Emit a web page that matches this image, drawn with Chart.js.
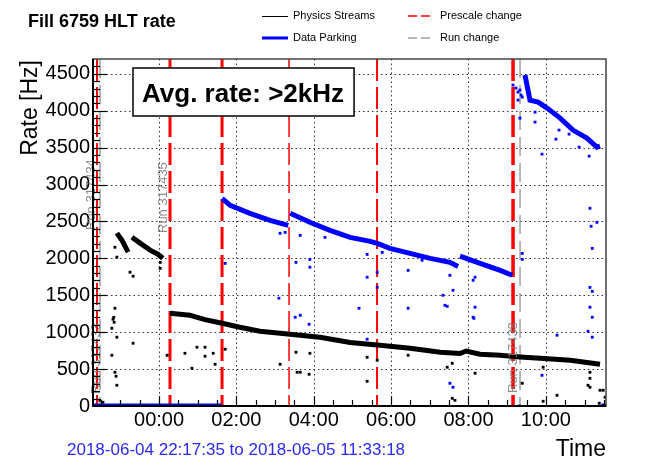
<!DOCTYPE html>
<html>
<head>
<meta charset="utf-8">
<title>Fill 6759 HLT rate</title>
<script src="https://cdn.jsdelivr.net/npm/chart.js@4.4.1/dist/chart.umd.min.js"></script>
<style>
  html, body { margin: 0; padding: 0; background: #fff; }
  #wrap { position: relative; width: 646px; height: 459px; }
</style>
</head>
<body>
<div id="wrap"><canvas id="hltRate" width="646" height="459"></canvas></div>
<script>
/* ---------- DATA (time in hours after 2018-06-05 00:00) ---------- */
const timeStart = -(1 + 42 / 60 + 25 / 3600);   // 2018-06-04 22:17:35
const timeEnd = 11 + 33 / 60 + 18 / 3600;       // 2018-06-05 11:33:18
const rateMax = 4700;
const rateTicks = [0, 500, 1000, 1500, 2000, 2500, 3000, 3500, 4000, 4500];
const timeTicks = [0, 2, 4, 6, 8, 10];

// main bands, null = gap
const physLineTime = [-1.09, -0.96, -0.80, -0.75, -0.70, -0.49, -0.23, -0.03, 0.10, 0.20,
  0.28, 0.41, 0.80, 1.19, 1.63, 2.09, 2.61, 3.39, 4.16, 4.94, 5.71, 6.49, 7.27, 7.78, 7.94,
  8.30, 8.82, 9.33, 9.85, 10.63, 11.40];
const physLineRate = [2341, 2246, 2084, null, 2287, 2206, 2111, 2056, 2002, null,
  1257, 1250, 1228, 1170, 1120, 1066, 1012, 972, 931, 860, 823, 782, 728, 710, 745,
  701, 687, 665, 647, 620, 565];

const parkLineTime = [timeStart, 1.62, 1.625, 1.63, 1.84, 2.35, 2.87, 3.34, 3.36,
  3.39, 3.90, 4.42, 4.94, 5.46, 5.64, 5.97, 6.49, 7.01, 7.52, 7.73, 7.75,
  7.78, 8.30, 8.82, 9.13, 9.14,
  9.46, 9.59, 9.80, 10.03, 10.37, 10.70, 11.06, 11.32, 11.40, 11.41, 11.43, timeEnd];
const parkLineRate = [0, 0, null, 2813, 2718, 2610, 2515, 2447, null,
  2610, 2488, 2380, 2284, 2230, 2203, 2135, 2067, 2000, 1946, 1890, null,
  2030, 1932, 1837, 1771, null,
  4483, 4143, 4116, 4035, 3899, 3737, 3628, 3506, 3520, null, 0, 0];

// scattered single measurements
const physDotTime = [-1.14, -1.09, -0.75, -0.67, -1.14, -1.19, -1.16, -1.22, -1.09, -0.67,
  -1.22, -1.14, -1.11, -1.09, -1.53, -1.45, 0.03, 0.03, 0.21, 0.67, 0.85, 0.98, 1.19, 1.19,
  1.40, 1.45, 1.71, 3.13, 3.54, 3.57, 3.65, 3.88, 3.90, 5.38, 5.38, 5.64, 6.44, 7.45, 7.58,
  7.58, 7.65, 8.17, 9.39, 9.93, 9.93, 10.29, 11.14, 11.14, 11.09, 11.14, 11.40, 11.48, 11.53,
  11.38, -1.17];
const physDotRate = [2150, 2016, 1812, 1758, 1324, 1175, 1134, 1053, 932, 850,
  687, 457, 403, 281, 77, 50, 1945, 1865, 687, 714, 511, 796, 796, 674,
  714, 565, 769, 565, 728, 457, 457, 430, 714, 660, 335, 620, 687, 525, 579,
  104, 77, 444, 308, 525, 64, 145, 457, 375, 281, 254, 213, 213, 118,
  37, 1200];

const parkDotTime = [9.15, 9.23, 9.28, 9.36, 9.33, 9.28, 9.39, 9.33, 9.72, 9.72, 10.34, 10.26,
  10.60, 10.86, 9.90, 11.12, 11.14, 11.17, 11.32, 11.20, 9.39, 9.39, 11.14, 11.20, 11.14, 11.20,
  11.09, 11.20, 10.29, 9.90, 1.71, 3.10, 3.13, 3.26, 3.54, 3.65, 3.52, 3.65, 3.88, 3.90, 3.90,
  4.29, 5.17, 5.38, 5.38, 5.38, 5.64, 5.64, 5.77, 6.44, 6.44, 6.80, 7.34, 7.39, 7.45, 7.60,
  7.52, 7.52, 7.60, 8.17, 8.17, 8.12, 8.12, 8.14, 9.31];
const parkDotRate = [4347, 4306, 4252, 4211, 4279, 4143, 4184, 3899, 3980, 3845, 3737, 3614,
  3682, 3506, 3411, 3384, 2678, 2434, 2488, 2135, 2067, 1986, 1607, 1553, 1338, 1202,
  1012, 932, 959, 416, 1932, 1460, 2339, 2352, 1946, 2311, 1202, 1229, 1107, 1986, 1880,
  2284, 1324, 1744, 2053, 905, 1812, 1607, 2080, 1837, 1324, 1974, 1500, 1364, 1350, 1567,
  1770, 308, 254, 1744, 1338, 1202, 1703, 1188, 0];

const prescaleTimes = [-1.603, 0.284, 1.629, 3.361, 5.636, 9.152];
const runChangeTimes = [-1.525, 9.333];
const runNames = ['Run 317434', 'Run 317433', 'Run 317435', 'Run 317438'];

/* ---------- STYLE ---------- */
const FONT = '"Liberation Sans", Arial, Helvetica, sans-serif';
const BLUE = '#0000ff';
const prescaleWidths = [2, 3, 3, 1.5, 2, 3.5];

const toPoints = (t, v) => t.map((x, i) => ({ x, y: v[i] }));
const hhmm = h => {
  const m = Math.round((((h % 24) + 24) % 24) * 60);
  return String(Math.floor(m / 60)).padStart(2, '0') + ':' + String(m % 60).padStart(2, '0');
};

function vline(ctx, x, top, bottom) {
  ctx.beginPath(); ctx.moveTo(x, top); ctx.lineTo(x, bottom); ctx.stroke();
}
function hline(ctx, y, left, right) {
  ctx.beginPath(); ctx.moveTo(left, y); ctx.lineTo(right, y); ctx.stroke();
}
function rotText(ctx, txt, x, y) {
  ctx.save(); ctx.translate(x, y); ctx.rotate(-Math.PI / 2);
  ctx.fillText(txt, 0, 0); ctx.restore();
}

/* ---------- grid, markers, frame, texts ---------- */
const rootStyle = {
  id: 'rootStyle',
  beforeDatasetsDraw(chart) {
    const { ctx, chartArea: a, scales: { x, y } } = chart;
    ctx.save();
    // dotted grid
    ctx.strokeStyle = '#333'; ctx.lineWidth = 1; ctx.setLineDash([1.5, 3]);
    rateTicks.slice(1).forEach(v => hline(ctx, Math.round(y.getPixelForValue(v)) + 0.5, a.left, a.right));
    timeTicks.forEach(h => vline(ctx, Math.round(x.getPixelForValue(h)) + 0.5, a.top, a.bottom));

    // run change (grey) and prescale change (red)
    ctx.strokeStyle = '#a0a0a0'; ctx.lineWidth = 1.5; ctx.setLineDash([19, 7]);
    runChangeTimes.forEach(t => vline(ctx, x.getPixelForValue(t), a.top, a.bottom));
    ctx.strokeStyle = '#ff0000'; ctx.setLineDash([22, 6]);
    prescaleTimes.forEach((t, i) => {
      ctx.lineWidth = prescaleWidths[i];
      vline(ctx, x.getPixelForValue(t), a.top, a.bottom);
    });
    ctx.restore();
  },
  afterDraw(chart) {
    const { ctx, chartArea: a, scales: { x, y } } = chart;
    ctx.save();

    // run labels (rotated, grey)
    ctx.fillStyle = 'rgba(120,120,120,0.85)';
    ctx.font = '13px ' + FONT;
    ctx.textAlign = 'left'; ctx.textBaseline = 'alphabetic';
    rotText(ctx, runNames[0], 95, 230);
    rotText(ctx, runNames[1], 100, 394);
    rotText(ctx, runNames[2], 167, 233);
    rotText(ctx, runNames[3], 517, 393);

    // frame
    ctx.setLineDash([]);
    ctx.strokeStyle = '#444'; ctx.lineWidth = 1.5;
    ctx.strokeRect(a.left, a.top, a.right - a.left, a.bottom - a.top);
    ctx.strokeStyle = '#000'; ctx.lineWidth = 2;
    vline(ctx, a.left, a.top, a.bottom + 1);
    hline(ctx, a.bottom, a.left, a.right);

    // inward ticks
    ctx.lineWidth = 1.2;
    for (let v = 100; v < rateMax; v += 100) {
      const py = Math.round(y.getPixelForValue(v)) + 0.5;
      hline(ctx, py, a.left, a.left + (v % 500 === 0 ? 14 : 7));
    }
    for (let h = -1.5; h < timeEnd; h += 0.5) {
      const px = Math.round(x.getPixelForValue(h)) + 0.5;
      vline(ctx, px, a.bottom, a.bottom - (h % 2 === 0 ? 10 : 6));
    }

    // average rate box
    ctx.font = 'bold 26px ' + FONT;
    const boxTxt = 'Avg. rate: >2kHz';
    const tw = ctx.measureText(boxTxt).width;
    ctx.fillStyle = '#fff';
    ctx.fillRect(133, 68, tw + 19, 48);
    ctx.strokeStyle = '#000'; ctx.lineWidth = 1.5;
    ctx.strokeRect(133, 68, tw + 19, 48);
    ctx.fillStyle = '#000';
    ctx.fillText(boxTxt, 142, 102);

    // title
    ctx.font = 'bold 18px ' + FONT;
    ctx.fillText('Fill 6759 HLT rate', 28, 27);

    // legend
    ctx.font = '11px ' + FONT;
    ctx.textBaseline = 'middle';
    ctx.strokeStyle = '#000'; ctx.lineWidth = 1;
    hline(ctx, 16.5, 262, 288);
    ctx.fillText('Physics Streams', 293, 16);
    ctx.strokeStyle = BLUE; ctx.lineWidth = 3;
    hline(ctx, 38, 262, 288);
    ctx.fillText('Data Parking', 293, 38);
    ctx.lineWidth = 1.5;
    ctx.strokeStyle = '#ff0000'; ctx.setLineDash([9, 4]);
    hline(ctx, 16, 408, 434);
    ctx.fillText('Prescale change', 440, 16);
    ctx.strokeStyle = '#a0a0a0';
    hline(ctx, 38, 408, 434);
    ctx.fillText('Run change', 440, 38);
    ctx.setLineDash([]);

    // axis titles
    ctx.textBaseline = 'alphabetic';
    ctx.font = '23px ' + FONT;
    ctx.textAlign = 'right';
    rotText(ctx, 'Rate [Hz]', 37, 60);
    ctx.fillText('Time', 606, 456);
    ctx.textAlign = 'left';
    ctx.font = '17px ' + FONT;
    ctx.fillStyle = '#2a2af0';
    ctx.fillText('2018-06-04 22:17:35 to 2018-06-05 11:33:18', 67, 455);
    ctx.restore();
  }
};

/* ---------- CHART ---------- */
new Chart(document.getElementById('hltRate'), {
  type: 'scatter',
  data: {
    datasets: [
      { label: 'Data Parking', data: toPoints(parkLineTime, parkLineRate), showLine: true,
        spanGaps: false, borderColor: BLUE, borderWidth: 5, pointRadius: 0 },
      { label: 'Physics Streams', data: toPoints(physLineTime, physLineRate), showLine: true,
        spanGaps: false, borderColor: '#000', borderWidth: 5, pointRadius: 0 },
      { label: 'Data Parking dots', data: toPoints(parkDotTime, parkDotRate),
        pointStyle: 'rect', pointRadius: 2, backgroundColor: BLUE, borderWidth: 0 },
      { label: 'Physics dots', data: toPoints(physDotTime, physDotRate),
        pointStyle: 'rect', pointRadius: 2, backgroundColor: '#000', borderWidth: 0 }
    ]
  },
  options: {
    responsive: false,
    animation: false,
    devicePixelRatio: 1,
    layout: { padding: { top: 59, right: 40, left: 0, bottom: 0 } },
    plugins: { legend: { display: false }, tooltip: { enabled: false } },
    scales: {
      x: {
        type: 'linear', min: timeStart, max: timeEnd,
        afterFit: s => { s.height = 53; },
        afterBuildTicks: s => { s.ticks = timeTicks.map(v => ({ value: v })); },
        grid: { display: false, drawTicks: false }, border: { display: false },
        ticks: {
          autoSkip: false, maxRotation: 0, padding: 2,
          color: '#000', font: { family: FONT, size: 20 },
          callback: v => hhmm(v)
        }
      },
      y: {
        type: 'linear', min: 0, max: rateMax,
        afterFit: s => { s.width = 93; },
        afterBuildTicks: s => { s.ticks = rateTicks.map(v => ({ value: v })); },
        grid: { display: false, drawTicks: false }, border: { display: false },
        ticks: {
          autoSkip: false, padding: 3,
          color: '#000', font: { family: FONT, size: 20 },
          callback: v => String(v)
        }
      }
    }
  },
  plugins: [rootStyle]
});
</script>
</body>
</html>
